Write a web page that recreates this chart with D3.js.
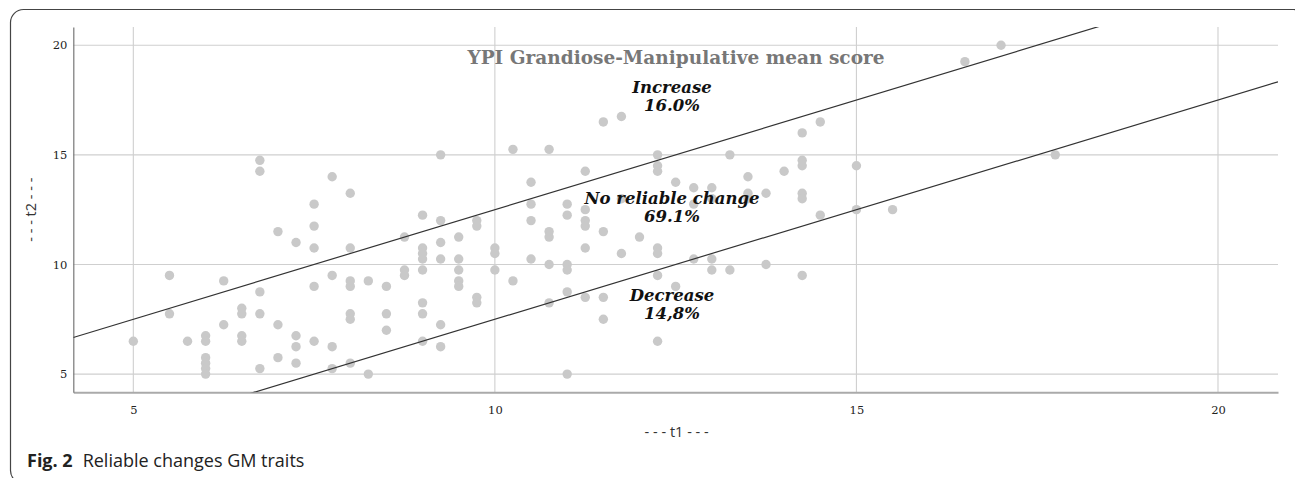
<!DOCTYPE html>
<html>
<head>
<meta charset="utf-8">
<script src="https://cdn.jsdelivr.net/npm/d3@7"></script>
<style>
  html, body { margin: 0; padding: 0; background: #fff; }
  svg { display: block; }
</style>
</head>
<body>
<svg id="chart" width="1295" height="478"></svg>
<script>
// ---- data (t1, t2) ----
const t1 = [
  5, 5.5, 5.5, 5.75,
  6, 6, 6, 6, 6, 6,
  6.25, 6.25,
  6.5, 6.5, 6.5, 6.5,
  6.75, 6.75, 6.75, 6.75, 6.75,
  7, 7, 7,
  7.25, 7.25, 7.25, 7.25,
  7.5, 7.5, 7.5, 7.5, 7.5,
  7.75, 7.75, 7.75, 7.75,
  8, 8, 8, 8, 8, 8, 8,
  8.25, 8.25,
  8.5, 8.5, 8.5,
  8.75, 8.75, 8.75,
  9, 9, 9, 9, 9, 9, 9, 9,
  9.25, 9.25, 9.25, 9.25, 9.25, 9.25,
  9.5, 9.5, 9.5, 9.5, 9.5,
  9.75, 9.75, 9.75, 9.75,
  10, 10, 10,
  10.25, 10.25,
  10.5, 10.5, 10.5, 10.5,
  10.75, 10.75, 10.75, 10.75, 10.75,
  11, 11, 11, 11, 11, 11,
  11.25, 11.25, 11.25, 11.25, 11.25, 11.25,
  11.5, 11.5, 11.5, 11.5,
  11.75, 11.75, 11.75,
  12,
  12.25, 12.25, 12.25, 12.25, 12.25, 12.25, 12.25,
  12.5, 12.5,
  12.75, 12.75, 12.75,
  13, 13, 13, 13,
  13.25, 13.25,
  13.5, 13.5, 13.5,
  13.75, 13.75,
  14,
  14.25, 14.25, 14.25, 14.25, 14.25, 14.25,
  14.5, 14.5,
  15, 15,
  15.5,
  16.5,
  17,
  17.75
];
const t2 = [
  6.5, 9.5, 7.75, 6.5,
  6.75, 6.5, 5.75, 5.5, 5.25, 5.0,
  9.25, 7.25,
  8.0, 7.75, 6.75, 6.5,
  14.75, 14.25, 8.75, 7.75, 5.25,
  11.5, 7.25, 5.75,
  11, 6.75, 6.25, 5.5,
  12.75, 11.75, 10.75, 9.0, 6.5,
  14.0, 9.5, 6.25, 5.25,
  13.25, 10.75, 9.25, 9.0, 7.75, 7.5, 5.5,
  9.25, 5.0,
  9.0, 7.75, 7.0,
  11.25, 9.75, 9.5,
  12.25, 10.75, 10.5, 10.25, 9.75, 8.25, 7.75, 6.5,
  15.0, 12.0, 11.0, 10.25, 7.25, 6.25,
  11.25, 10.25, 9.75, 9.25, 9.0,
  12.0, 11.75, 8.5, 8.25,
  10.75, 10.5, 9.75,
  15.25, 9.25,
  13.75, 12.75, 12.0, 10.25,
  15.25, 11.5, 11.25, 10.0, 8.25,
  12.75, 12.25, 10.0, 9.75, 8.75, 5.0,
  14.25, 12.5, 12.0, 11.75, 10.75, 8.5,
  16.5, 11.5, 8.5, 7.5,
  16.75, 13.0, 10.5,
  11.25,
  15.0, 14.5, 14.25, 10.75, 10.5, 9.5, 6.5,
  13.75, 9.0,
  13.5, 12.75, 10.25,
  13.5, 13.0, 10.25, 9.75,
  15.0, 9.75,
  14.0, 13.25, 13.0,
  13.25, 10.0,
  14.25,
  16.0, 14.75, 14.5, 13.25, 13.0, 9.5,
  16.5, 12.25,
  14.5, 12.5,
  12.5,
  19.25,
  20,
  15
];
const xTicks = [5, 10, 15, 20];
const yTicks = [5, 10, 15, 20];
const xDomain = [4.17, 20.83];
const yDomain = [4.17, 20.83];
const bandOffset = 2.5;            // reliable change boundaries: t2 = t1 ± 2.5
const title = "YPI Grandiose-Manipulative mean score";
const regionLabels = [
  { name: "Increase", pct: "16.0%", x: 12.45, y: 17.8 },
  { name: "No reliable change", pct: "69.1%", x: 12.45, y: 12.78 },
  { name: "Decrease", pct: "14,8%", x: 12.45, y: 8.35 }
];

const points = t1.map((d, i) => ({ x: d, y: t2[i] }));

// ---- layout ----
const svg = d3.select("#chart");
const plot = { left: 73.3, right: 1278, top: 27, bottom: 392.3 };

const x = d3.scaleLinear().domain(xDomain).range([plot.left, plot.right]);
const y = d3.scaleLinear().domain(yDomain).range([plot.bottom, plot.top]);

// outer rounded frame
svg.append("rect")
  .attr("x", 10.5).attr("y", 9.5)
  .attr("width", 1296).attr("height", 474)
  .attr("rx", 13).attr("ry", 13)
  .attr("fill", "none").attr("stroke", "#444").attr("stroke-width", 1.2);

svg.append("defs").append("clipPath").attr("id", "plotclip")
  .append("rect")
  .attr("x", plot.left).attr("y", plot.top)
  .attr("width", plot.right - plot.left).attr("height", plot.bottom - plot.top);

// gridlines
const grid = svg.append("g");
grid.selectAll("line.v").data(xTicks).join("line")
  .attr("x1", d => x(d)).attr("x2", d => x(d))
  .attr("y1", plot.top).attr("y2", plot.bottom)
  .attr("stroke", "#cfcfcf").attr("stroke-width", 1.1);
grid.selectAll("line.h").data(yTicks).join("line")
  .attr("x1", plot.left).attr("x2", plot.right)
  .attr("y1", d => y(d)).attr("y2", d => y(d))
  .attr("stroke", "#cfcfcf").attr("stroke-width", 1.1);

// axes
const xAxis = d3.axisBottom(x).tickValues(xTicks).tickSize(0).tickPadding(14).tickFormat(d3.format("d"));
const yAxis = d3.axisLeft(y).tickValues(yTicks).tickSize(0).tickPadding(6).tickFormat(d3.format("d"));

const gx = svg.append("g").attr("transform", `translate(0,${plot.bottom})`).call(xAxis);
gx.select(".domain").attr("stroke", "#aaa").attr("stroke-width", 2);
gx.selectAll("text").attr("font-family", "DejaVu Serif").attr("font-size", 11.5).attr("fill", "#222");

const gy = svg.append("g").attr("transform", `translate(${plot.left},0)`).call(yAxis);
gy.select(".domain").attr("stroke", "#777").attr("stroke-width", 1.2);
gy.selectAll("text").attr("font-family", "DejaVu Serif").attr("font-size", 11.5).attr("fill", "#222");

// points
svg.append("g").selectAll("circle").data(points).join("circle")
  .attr("cx", d => x(d.x)).attr("cy", d => y(d.y)).attr("r", 4.7)
  .attr("fill", "#c9c9c9");

// boundary lines
const bandLines = [
  [{ x: xDomain[0], y: xDomain[0] + bandOffset }, { x: xDomain[1], y: xDomain[1] + bandOffset }],
  [{ x: xDomain[0], y: xDomain[0] - bandOffset }, { x: xDomain[1], y: xDomain[1] - bandOffset }]
];
const line = d3.line().x(d => x(d.x)).y(d => y(d.y));
svg.append("g").attr("clip-path", "url(#plotclip)")
  .selectAll("path").data(bandLines).join("path")
  .attr("d", line).attr("fill", "none").attr("stroke", "#333").attr("stroke-width", 1.2);

// title
svg.append("text")
  .attr("x", 676).attr("y", 63.5)
  .attr("text-anchor", "middle")
  .attr("font-family", "DejaVu Serif").attr("font-weight", "bold").attr("font-size", 18)
  .attr("fill", "#777")
  .attr("textLength", 417).attr("lengthAdjust", "spacingAndGlyphs")
  .text(title);

// region labels
const rl = svg.append("g").selectAll("text").data(regionLabels).join("text")
  .attr("text-anchor", "middle")
  .attr("font-family", "DejaVu Serif").attr("font-weight", "bold").attr("font-style", "italic")
  .attr("font-size", 16.5).attr("fill", "#111");
rl.append("tspan").attr("x", d => x(d.x)).attr("y", d => y(d.y)).text(d => d.name);
rl.append("tspan").attr("x", d => x(d.x)).attr("dy", 18).text(d => d.pct);

// axis titles
svg.append("text")
  .attr("x", (plot.left + plot.right) / 2 + 1).attr("y", 437)
  .attr("text-anchor", "middle")
  .attr("font-family", "Open Sans").attr("font-size", 14.5).attr("fill", "#333")
  .text("- - - t1 - - -");
svg.append("text")
  .attr("transform", `translate(36,${(plot.top + plot.bottom) / 2}) rotate(-90)`)
  .attr("text-anchor", "middle")
  .attr("font-family", "Open Sans").attr("font-size", 14.5).attr("fill", "#333")
  .text("- - - t2 - - -");

// caption
const cap = svg.append("text").attr("x", 27).attr("y", 467)
  .attr("font-family", "Open Sans").attr("font-size", 18).attr("fill", "#222");
cap.append("tspan").attr("font-weight", "bold").text("Fig. 2");
cap.append("tspan").attr("dx", 10).text("Reliable changes GM traits");
</script>
</body>
</html>
